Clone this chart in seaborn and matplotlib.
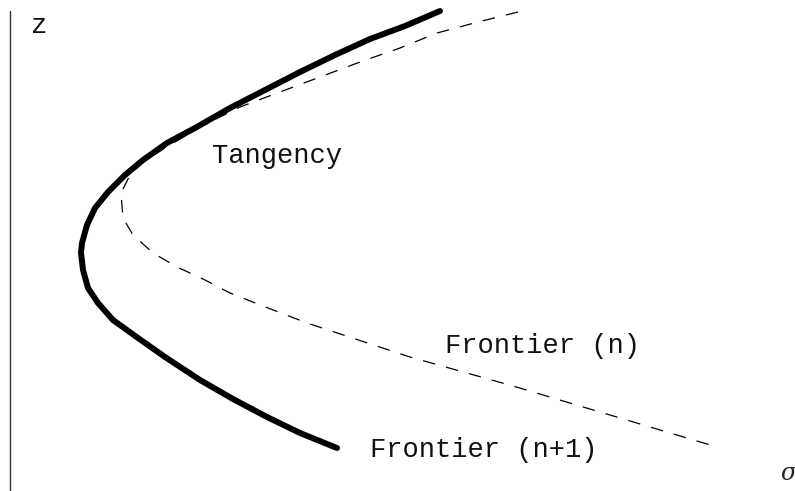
import numpy as np
import pandas as pd
import matplotlib
matplotlib.use("Agg")
import matplotlib.pyplot as plt
import seaborn as sns

# curve points (sigma to the right, z upward)
sigma_next = [440, 405, 370, 335, 300, 265, 230, 195, 167, 143, 125, 108, 95, 87, 82, 81,
              83, 88, 98, 113, 138, 165, 200, 233, 267, 300, 337]
z_next = [480, 465, 452, 436, 419, 401, 383, 363, 348, 331, 316, 299, 283, 266, 248, 238,
          221, 203, 188, 171, 153, 134, 111, 92, 74, 58, 43]

sigma_n = [518, 478, 437, 400, 360, 320, 280, 240, 200, 165, 143, 130, 121, 123, 133, 153,
           177, 205, 230, 268, 307, 410, 513, 620, 717]
z_n = [479, 469, 458, 443, 429, 414, 399, 384, 364, 343, 329, 316, 298, 273, 256, 238,
       224, 211, 198, 183, 168, 134, 105, 73, 44]

label_text = ["z", "Tangency", "Frontier (n)", "Frontier (n+1)"]
label_sigma = [31, 212, 445, 370]
label_z = [458, 328, 138, 34]

df_next = pd.DataFrame({"sigma": sigma_next, "z": z_next})
df_n = pd.DataFrame({"sigma": sigma_n, "z": z_n})

sns.set_style("white")
plt.rcParams["font.family"] = ["Liberation Mono", "DejaVu Sans Mono"]

fig = plt.figure(figsize=(7.95, 4.91), dpi=100)
ax = fig.add_axes([0, 0, 1, 1])

sns.lineplot(data=df_n, x="sigma", y="z", sort=False, estimator=None,
             color="black", linewidth=0.9, ax=ax)
ax.lines[-1].set_dashes((10, 9))
sns.lineplot(data=df_next, x="sigma", y="z", sort=False, estimator=None,
             color="black", linewidth=4.3, ax=ax,
             solid_capstyle="round", solid_joinstyle="round")

# vertical z axis
ax.plot([10, 10], [0, 480], color="#333333", linewidth=1.0)

for txt, sx, sz in zip(label_text, label_sigma, label_z):
    ax.text(sx, sz, txt, fontsize=19.5, ha="left", va="baseline", color="#111111")

ax.text(780, 11, "σ", fontsize=17, ha="left", va="baseline",
        family="DejaVu Serif", style="italic", color="#222222")

ax.set_xlim(0, 795)
ax.set_ylim(0, 491)
ax.set_xlabel("")
ax.set_ylabel("")
ax.set_xticks([])
ax.set_yticks([])
for sp in ax.spines.values():
    sp.set_visible(False)

fig.savefig("out.png", dpi=100)
